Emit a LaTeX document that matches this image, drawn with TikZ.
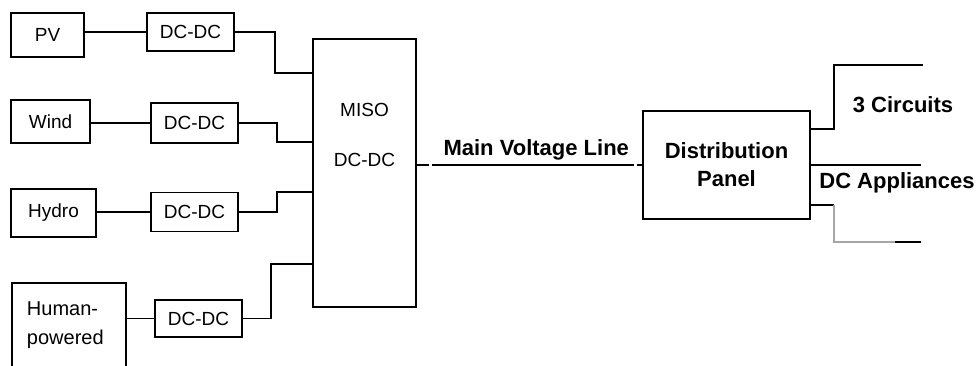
\documentclass[tikz,border=0pt]{standalone}
\usepackage{fontspec}
\setmainfont{Liberation Sans}
\usetikzlibrary{positioning}
\begin{document}
\begin{tikzpicture}[x=1pt,y=-1pt,
  blk/.style={draw,line width=1.7pt,inner sep=0pt,font=\fontsize{19}{29}\selectfont},
  wire/.style={line width=1.7pt},
  lbl/.style={font=\bfseries\fontsize{22}{28}\selectfont}]
  \clip (0,0) rectangle (979,365);
  % sources and converters
  \node[blk,minimum width=73pt,minimum height=44pt] (pv) at (47.5,35) {PV};
  \node[blk,minimum width=87pt,minimum height=38pt] (dc1) at (190.5,32) {DC-DC};
  \node[blk,minimum width=79pt,minimum height=43pt] (wind) at (50.5,121.5) {Wind};
  \node[blk,minimum width=87pt,minimum height=40pt] (dc2) at (194.5,123) {DC-DC};
  \node[blk,minimum width=85pt,minimum height=48pt] (hydro) at (53.5,213) {Hydro};
  \node[blk,minimum width=87pt,minimum height=39pt] (dc3) at (194.5,212) {DC-DC};
  \node[blk,minimum width=114pt,minimum height=85pt,text width=84pt,align=left,font=\fontsize{20}{29}\selectfont] (human) at (69,325.5) {Human-\\powered};
  \node[blk,minimum width=87pt,minimum height=37pt] (dc4) at (198.5,318.5) {DC-DC};
  \node[blk,minimum width=103pt,minimum height=268pt] (miso) at (364.5,173) {};
  \node[font=\fontsize{19}{50}\selectfont,align=center,anchor=north] (misotext) at ([yshift=-62pt]miso.north) {MISO\\DC-DC};
  \node[blk,lbl,minimum width=167pt,minimum height=108pt,align=center] (panel) at (726.5,165) {Distribution\\Panel};
  \draw[wire] (pv.east |- dc1.west) -- (dc1.west);
  \draw[wire] (wind.east |- dc2.west) -- (dc2.west);
  \draw[wire] (hydro.east |- dc3.west) -- (dc3.west);
  \draw[wire] (human.east |- dc4.west) -- (dc4.west);
  \draw[wire] (dc1.east) -- ++(40,0) |- ([yshift=-35pt]miso.north west);
  \draw[wire] (dc2.east) -- ++(38,0) |- ([yshift=-104pt]miso.north west);
  \draw[wire] (dc3.east) -- ++(38,0) |- ([yshift=-154pt]miso.north west);
  \draw[wire] (dc4.east) -- ++(28,0) |- ([yshift=-226pt]miso.north west);
  % main line
  \draw[wire,dash pattern=on 12pt off 3pt on 202pt off 3pt on 20pt] (miso.east |- panel.west) -- (panel.west)
    node[lbl,pos=0.53,above=1pt] (mainlbl) {Main Voltage Line};
  % outputs
  \coordinate (c1) at (923,65);
  \coordinate (c2) at (921,165);
  \coordinate (b2) at (895,242);
  \coordinate (c3) at (921,242);
  \draw[wire] ([yshift=36pt]panel.east) -- ++(23,0) |- (c1);
  \draw[wire] (panel.east) -- (c2);
  \draw[wire] ([yshift=-40pt]panel.east) -- ++(23,0) coordinate (b1);
  \draw[wire,gray!70] (b1) |- (b2);
  \draw[wire] (b2) -- (c3);
  \node[lbl] (circ) at (903,105) {3 Circuits};
  \node[lbl] (appl) at (897,183) {DC Appliances};
\end{tikzpicture}
\end{document}
